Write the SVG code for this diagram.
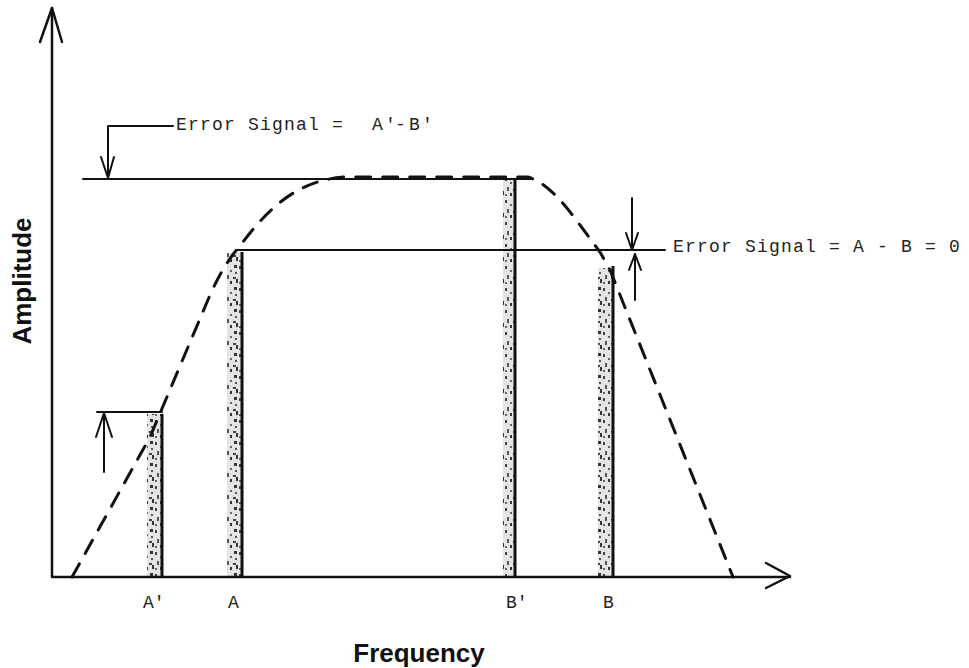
<svg xmlns="http://www.w3.org/2000/svg" width="969" height="668" viewBox="0 0 969 668">
<style>
.ln{stroke:#111;stroke-width:2;fill:none;stroke-linecap:round;stroke-linejoin:round}
.ax{stroke:#111;stroke-width:2.5;fill:none;stroke-linecap:round;stroke-linejoin:round}
.dash{stroke:#111;stroke-width:3;fill:none;stroke-dasharray:15 12;stroke-linecap:round}
.tw{font-family:"Liberation Mono","DejaVu Sans Mono",monospace;font-size:18px;letter-spacing:1.2px;fill:#222}
.lb{font-family:"Liberation Mono","DejaVu Sans Mono",monospace;font-size:18px;fill:#222}
.ttl{font-family:"Liberation Sans",Arial,sans-serif;font-size:26px;font-weight:bold;fill:#111}
.edge{stroke:#111;stroke-width:3}
.bar{fill:url(#speck)}
</style>
<defs>
<pattern id="speck" width="14" height="22" patternUnits="userSpaceOnUse">
<rect width="14" height="22" fill="#e4e4e4"/>
<rect x="1" y="2" width="2" height="3" fill="#444"/>
<rect x="6" y="6" width="2" height="2" fill="#666"/>
<rect x="10" y="1" width="3" height="3" fill="#333"/>
<rect x="3" y="11" width="2" height="4" fill="#555"/>
<rect x="9" y="13" width="3" height="2" fill="#444"/>
<rect x="1" y="18" width="2" height="2" fill="#666"/>
<rect x="6" y="17" width="2" height="3" fill="#333"/>
<rect x="11" y="8" width="2" height="2" fill="#555"/>
<rect x="12" y="15" width="2" height="4" fill="#333"/>
</pattern>
</defs>
<rect width="969" height="668" fill="#fff"/>

<g id="bar-A-prime">
<rect class="bar" x="147" y="414" width="15" height="163"/>
<line class="edge" x1="162" y1="414" x2="162" y2="577"/>
</g>
<g id="bar-A">
<rect class="bar" x="227" y="253" width="15" height="324"/>
<line class="edge" x1="242" y1="252" x2="242" y2="577"/>
</g>
<g id="bar-B-prime">
<rect class="bar" x="503" y="180" width="12" height="397"/>
<line class="edge" x1="515" y1="179" x2="515" y2="577"/>
</g>
<g id="bar-B">
<rect class="bar" x="598" y="268" width="15" height="309"/>
<line class="edge" x1="613" y1="266" x2="613" y2="577"/>
</g>

<g id="connectors">
<path class="ax" d="M52,8 L52,577 L790,577"/>
<path class="ax" d="M40,42 L52,8 L62,42"/>
<path class="ax" d="M766,563 L790,576 L766,588"/>
<line class="ln" x1="83" y1="179" x2="533" y2="179"/>
<line class="ln" x1="237" y1="250" x2="665" y2="250"/>
<line class="ln" x1="97" y1="412" x2="162" y2="412"/>
<path class="ln" d="M173,126 L108,126 L108,178"/>
<path class="ln" d="M101,157 L108,178 L114,157"/>
<path class="ln" d="M632,198 L632,250"/>
<path class="ln" d="M626,233 L632,250 L638,233"/>
<path class="ln" d="M635,300 L635,254"/>
<path class="ln" d="M629,270 L635,254 L641,270"/>
<path class="ln" d="M104,472 L104,413"/>
<path class="ln" d="M96,437 L104,413 L112,437"/>
<path class="dash" d="M72,577 L150,437 L210,295 Q225,262 240,246 C270,205 300,180 345,177 L528,177 C548,183 565,205 580,225 L600,252 L610,270 L733,577"/>
</g>

<g id="labels">
<text class="tw" x="176" y="130">Error Signal =</text>
<text class="tw" x="372 385 395 404 409 422" y="130">A'- B'</text>
<text class="tw" x="673" y="252">Error Signal = A - B = 0</text>
<text class="lb" x="143" y="608">A'</text>
<text class="lb" x="228" y="608">A</text>
<text class="lb" x="506" y="608">B'</text>
<text class="lb" x="603" y="608">B</text>
<text class="ttl" x="419" y="662" text-anchor="middle">Frequency</text>
<text class="ttl" transform="translate(31,281) rotate(-90)" text-anchor="middle">Amplitude</text>
</g>
</svg>
